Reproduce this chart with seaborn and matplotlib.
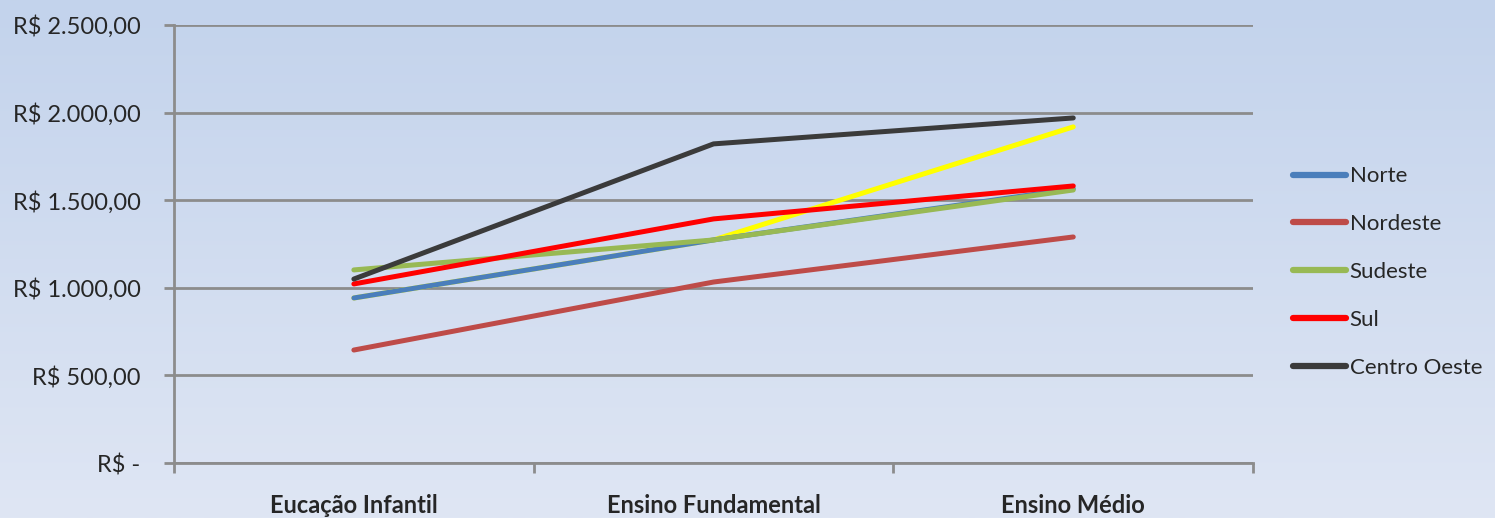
import numpy as np
import pandas as pd
import matplotlib
matplotlib.use("Agg")
import matplotlib.pyplot as plt
import seaborn as sns
from matplotlib.ticker import FixedLocator, FuncFormatter

categorias = ["Eucação Infantil", "Ensino Fundamental", "Ensino Médio"]
regioes = ["Norte", "Nordeste", "Sudeste", "Sul", "Centro Oeste"]
norte = [942, 1273, 1565]
nordeste = [645, 1033, 1290]
sudeste = [1102, 1273, 1558]
sul = [1022, 1393, 1581]
centro_oeste = [1050, 1821, 1969]
# serie amarela sem entrada na legenda (fica escondida sob a linha do Norte no 1o trecho)
amarela = [942, 1273, 1918]
cores = ["#4a7ebb", "#be4b48", "#98b954", "#ff0000", "#3b3b3b"]

valores = [norte, nordeste, sudeste, sul, centro_oeste]
df = pd.DataFrame({
    "Regiao": np.repeat(regioes, len(categorias)),
    "pos": list(range(len(categorias))) * len(regioes),
    "Valor": np.concatenate(valores),
})
df_am = pd.DataFrame({"pos": range(len(categorias)), "Valor": amarela})


def real(v, pos=None):
    if v == 0:
        return "R$ -"
    s = f"{v:,.2f}".replace(",", "X").replace(".", ",").replace("X", ".")
    return "R$ " + s


sns.set_theme(style="white")
plt.rcParams["font.family"] = ["Lato", "DejaVu Sans"]

fig = plt.figure(figsize=(14.95, 5.18), dpi=100)

# fundo em degrade
bg = fig.add_axes([0, 0, 1, 1], zorder=-10)
grad = np.linspace(0, 1, 256).reshape(-1, 1)
cmap = matplotlib.colors.LinearSegmentedColormap.from_list("bg", ["#c3d3ec", "#dfe6f4"])
bg.imshow(grad, aspect="auto", cmap=cmap, extent=[0, 1, 0, 1])
bg.axis("off")

ax = fig.add_axes([0.1164, 0.106, 0.7218, 0.846])
ax.patch.set_alpha(0)

sns.lineplot(data=df_am, x="pos", y="Valor", color="#ffff00", linewidth=3.6,
             ax=ax, legend=False, zorder=2)
sns.lineplot(data=df, x="pos", y="Valor", hue="Regiao", hue_order=regioes,
             palette=cores, linewidth=3.6, ax=ax, zorder=3)

ax.set_xlim(-0.5, 2.5)
ax.set_ylim(0, 2500)
ax.set_xlabel("")
ax.set_ylabel("")

ax.yaxis.set_major_locator(FixedLocator([0, 500, 1000, 1500, 2000, 2500]))
ax.yaxis.set_major_formatter(FuncFormatter(real))
ax.grid(axis="y", color="#8c8c8c", linewidth=2)
ax.set_axisbelow(True)

ax.set_xticks([-0.5, 0.5, 1.5, 2.5])
ax.set_xticklabels([])
ax.set_xticks([0, 1, 2], minor=True)
ax.set_xticklabels(categorias, minor=True, fontsize=17, fontweight="bold")
ax.tick_params(axis="x", which="minor", length=0, pad=22)
ax.tick_params(axis="x", which="major", length=7, width=2, color="#8c8c8c", direction="out")
ax.tick_params(axis="y", length=7, width=2, color="#8c8c8c", direction="out", pad=17, labelsize=17)
ax.tick_params(left=True, bottom=True)

for s in ["top", "right"]:
    ax.spines[s].set_color("none")
for s in ["left", "bottom"]:
    ax.spines[s].set_color("#8c8c8c")
    ax.spines[s].set_linewidth(2)

leg = ax.legend(loc="center left", bbox_to_anchor=(1.037, 0.436), frameon=False,
                fontsize=16, handlelength=2.4, handletextpad=0.15, labelspacing=1.25,
                borderpad=0, borderaxespad=0)
for line in leg.get_lines():
    line.set_linewidth(4.5)

fig.savefig("out.png", dpi=100)
